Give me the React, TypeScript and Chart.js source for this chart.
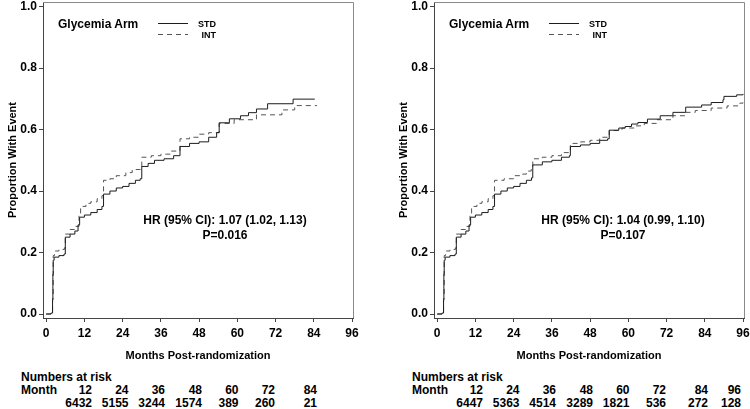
import React, { useEffect, useRef } from "react";
import { Chart, registerables } from "chart.js";
Chart.register(...registerables);

const FONT = '"Liberation Sans", Arial, Helvetica, sans-serif';

const xTickValues = [0, 12, 24, 36, 48, 60, 72, 84, 96];
const yTickValues = [0, 0.2, 0.4, 0.6, 0.8, 1.0];
const seriesNames = ["STD", "INT"];
const legendTitle = "Glycemia Arm";
const xAxisTitle = "Months Post-randomization";
const yAxisTitle = "Proportion With Event";

// Left panel
const leftStdMonths = [0, 1.5, 2.0, 2.1, 2.2, 2.5, 4.0, 5.6, 6.0, 7.5, 9.0, 10.0, 10.5, 12, 14, 16, 17.5, 18, 20, 22, 24, 26, 28, 29.5, 30, 32, 34, 37, 40, 42, 45, 48, 51, 53.5, 54.3, 57.5, 61, 63.5, 66, 69.5, 77.5, 84.3];
const leftStdValues = [0, 0.003, 0.045, 0.13, 0.175, 0.185, 0.19, 0.195, 0.25, 0.26, 0.27, 0.29, 0.315, 0.322, 0.33, 0.34, 0.35, 0.39, 0.4, 0.41, 0.415, 0.425, 0.435, 0.44, 0.48, 0.49, 0.5, 0.505, 0.515, 0.545, 0.555, 0.56, 0.575, 0.59, 0.622, 0.635, 0.645, 0.655, 0.667, 0.684, 0.699, 0.699];
const leftIntMonths = [0, 1.6, 2.0, 2.2, 2.6, 4.0, 5.7, 6.0, 7.5, 9, 10.3, 10.8, 12.5, 14, 16, 17.5, 18, 20, 22, 25, 27, 29.5, 30, 33, 36, 39, 42, 45, 48, 51, 54.3, 59, 66, 74, 78, 85];
const leftIntValues = [0, 0.003, 0.05, 0.19, 0.205, 0.21, 0.215, 0.26, 0.275, 0.285, 0.32, 0.35, 0.36, 0.365, 0.375, 0.385, 0.435, 0.44, 0.45, 0.46, 0.47, 0.48, 0.51, 0.515, 0.52, 0.53, 0.57, 0.575, 0.585, 0.59, 0.62, 0.632, 0.648, 0.664, 0.678, 0.678];
const leftRiskMonths = [12, 24, 36, 48, 60, 72, 84];
const leftRiskCounts = [6432, 5155, 3244, 1574, 389, 260, 21];
const leftHr = "HR (95% CI): 1.07 (1.02, 1.13)";
const leftP = "P=0.016";

// Right panel
const rightStdMonths = [0, 1.5, 2.0, 2.1, 2.2, 2.5, 4.0, 5.6, 6.0, 7.5, 9.0, 10.0, 10.5, 12, 14, 16, 17.5, 18, 20, 22, 24, 26, 28, 29.6, 30, 33, 36, 39, 41.5, 41.8, 45, 48, 51, 53.5, 54, 57, 59, 61, 63, 66, 70, 74, 78, 83, 86, 89.7, 90, 94, 96];
const rightStdValues = [0, 0.003, 0.045, 0.13, 0.175, 0.185, 0.19, 0.195, 0.25, 0.26, 0.27, 0.29, 0.315, 0.322, 0.33, 0.34, 0.35, 0.39, 0.4, 0.41, 0.415, 0.425, 0.435, 0.443, 0.485, 0.495, 0.5, 0.51, 0.515, 0.545, 0.55, 0.555, 0.565, 0.57, 0.598, 0.605, 0.61, 0.618, 0.623, 0.634, 0.645, 0.656, 0.673, 0.68, 0.688, 0.697, 0.708, 0.713, 0.716];
const rightIntMonths = [0, 1.6, 2.0, 2.2, 2.6, 4.0, 5.7, 6.0, 7.5, 9, 10.3, 10.8, 12.5, 14, 16, 17.5, 18, 21, 24, 26, 28, 29.5, 30, 33, 36, 39, 41.5, 41.8, 45, 48, 51, 53.5, 54, 58, 62, 65, 69, 74, 78, 81, 86, 91, 95, 96];
const rightIntValues = [0, 0.003, 0.05, 0.19, 0.205, 0.21, 0.215, 0.26, 0.275, 0.285, 0.32, 0.35, 0.36, 0.365, 0.375, 0.385, 0.435, 0.44, 0.45, 0.455, 0.465, 0.47, 0.505, 0.51, 0.515, 0.525, 0.53, 0.555, 0.56, 0.565, 0.575, 0.58, 0.597, 0.605, 0.612, 0.62, 0.632, 0.645, 0.656, 0.662, 0.67, 0.677, 0.686, 0.688];
const rightRiskMonths = [12, 24, 36, 48, 60, 72, 84, 96];
const rightRiskCounts = [6447, 5363, 4514, 3289, 1821, 536, 272, 128];
const rightHr = "HR (95% CI): 1.04 (0.99, 1.10)";
const rightP = "P=0.107";

const riskColumnRight = [92, 128.5, 165, 202, 238.5, 275, 317, 350];

const toPts = (ms: number[], vs: number[]) => ms.map((m, i) => ({ x: m, y: vs[i] }));

const framePlugin = {
  id: "frame",
  afterDraw(chart: any) {
    const { ctx, chartArea } = chart;
    const { left, right, top, bottom } = chartArea;
    ctx.save();
    ctx.strokeStyle = "#8a8a8a";
    ctx.lineWidth = 1;
    ctx.beginPath();
    ctx.moveTo(left, Math.round(top) + 0.5);
    ctx.lineTo(Math.round(right) + 0.5, Math.round(top) + 0.5);
    ctx.lineTo(Math.round(right) + 0.5, bottom);
    ctx.stroke();
    ctx.restore();
  },
};

type PanelProps = {
  offsetX: number;
  stdM: number[];
  stdV: number[];
  intM: number[];
  intV: number[];
  riskMonths: number[];
  riskCounts: number[];
  hr: string;
  p: string;
  hrCenterX: number;
};

function Panel(props: PanelProps) {
  const ref = useRef<HTMLCanvasElement | null>(null);
  useEffect(() => {
    if (!ref.current) return;
    const tickFont = { family: FONT, size: 12, weight: "bold" as const };
    const titleFont = { family: FONT, size: 11, weight: "bold" as const };
    const chart = new Chart(ref.current, {
      type: "line",
      data: {
        datasets: [
          {
            label: seriesNames[0],
            data: toPts(props.stdM, props.stdV),
            borderColor: "#1c1c1c",
            borderWidth: 1,
            pointRadius: 0,
            stepped: true,
            fill: false,
          },
          {
            label: seriesNames[1],
            data: toPts(props.intM, props.intV),
            borderColor: "#555555",
            borderWidth: 1,
            borderDash: [5, 4],
            pointRadius: 0,
            stepped: true,
            fill: false,
          },
        ],
      },
      options: {
        animation: false,
        responsive: false,
        maintainAspectRatio: false,
        events: [],
        layout: { padding: { top: 2, right: 6, left: 0, bottom: 0 } },
        plugins: { legend: { display: false }, tooltip: { enabled: false } },
        scales: {
          x: {
            type: "linear",
            min: -1,
            max: 96.3,
            afterBuildTicks: (s: any) => {
              s.ticks = xTickValues.map((v) => ({ value: v }));
            },
            afterFit: (s: any) => {
              s.height = 49;
              s.paddingLeft = 0;
              s.paddingRight = 0;
            },
            ticks: {
              font: tickFont,
              color: "#000",
              padding: 4,
              maxRotation: 0,
              autoSkip: false,
              callback: (v: any) => String(v),
            },
            grid: { display: true, drawOnChartArea: false, drawTicks: true, tickLength: 4, color: "#444" },
            border: { display: true, color: "#444" },
            title: { display: true, text: xAxisTitle, font: titleFont, color: "#000", padding: { top: 4, bottom: 4 } },
          },
          y: {
            type: "linear",
            min: -0.013,
            max: 1.015,
            afterBuildTicks: (s: any) => {
              s.ticks = yTickValues.map((v) => ({ value: v }));
            },
            afterFit: (s: any) => {
              s.width = 43;
              s.paddingTop = 0;
              s.paddingBottom = 0;
            },
            ticks: {
              font: tickFont,
              color: "#000",
              padding: 2,
              callback: (v: any) => Number(v).toFixed(1),
            },
            grid: { display: true, drawOnChartArea: false, drawTicks: true, tickLength: 4, color: "#444" },
            border: { display: true, color: "#444" },
            title: { display: true, text: yAxisTitle, font: titleFont, color: "#000", padding: { top: 6, bottom: 2 } },
          },
        },
      },
      plugins: [framePlugin],
    } as any);
    return () => chart.destroy();
  }, []);

  const textBase: React.CSSProperties = {
    position: "absolute",
    fontFamily: FONT,
    fontWeight: "bold",
    color: "#000",
    whiteSpace: "nowrap",
    lineHeight: "14px",
  };

  return (
    <div style={{ position: "absolute", left: props.offsetX, top: 0, width: 359, height: 409 }}>
      <canvas ref={ref} width={359} height={367} style={{ display: "block", width: 359, height: 367 }} />
      {/* legend */}
      <div style={{ ...textBase, left: 58, top: 17, fontSize: 12 }}>{legendTitle}</div>
      <svg style={{ position: "absolute", left: 0, top: 0 }} width={359} height={50}>
        <line x1={158} y1={23.5} x2={188} y2={23.5} stroke="#1c1c1c" strokeWidth={1} />
        <line x1={158} y1={34.5} x2={188} y2={34.5} stroke="#555" strokeWidth={1} strokeDasharray="5,4" />
      </svg>
      <div style={{ ...textBase, right: 359 - 216, top: 17, fontSize: 9, textAlign: "right" }}>{seriesNames[0]}</div>
      <div style={{ ...textBase, right: 359 - 216, top: 28, fontSize: 9, textAlign: "right" }}>{seriesNames[1]}</div>
      {/* HR */}
      <div style={{ ...textBase, left: props.hrCenterX - 150, width: 300, top: 213, fontSize: 12, textAlign: "center" }}>{props.hr}</div>
      <div style={{ ...textBase, left: props.hrCenterX - 150, width: 300, top: 228, fontSize: 12, textAlign: "center" }}>{props.p}</div>
      {/* numbers at risk */}
      <div style={{ ...textBase, left: 21, top: 370, fontSize: 12 }}>Numbers at risk</div>
      <div style={{ ...textBase, left: 21, top: 383, fontSize: 12 }}>Month</div>
      {props.riskMonths.map((m, i) => (
        <div key={"m" + i} style={{ ...textBase, right: 359 - riskColumnRight[i], top: 383, fontSize: 12, textAlign: "right" }}>
          {m}
        </div>
      ))}
      {props.riskCounts.map((c, i) => (
        <div key={"c" + i} style={{ ...textBase, right: 359 - riskColumnRight[i], top: 396, fontSize: 12, textAlign: "right" }}>
          {c}
        </div>
      ))}
    </div>
  );
}

export default function App() {
  useEffect(() => {
    document.body.style.margin = "0";
    document.body.style.background = "#fff";
  }, []);
  return (
    <div style={{ position: "relative", width: 750, height: 409, overflow: "hidden", background: "#fff" }}>
      <Panel
        offsetX={0}
        stdM={leftStdMonths}
        stdV={leftStdValues}
        intM={leftIntMonths}
        intV={leftIntValues}
        riskMonths={leftRiskMonths}
        riskCounts={leftRiskCounts}
        hr={leftHr}
        p={leftP}
        hrCenterX={225}
      />
      <Panel
        offsetX={391}
        stdM={rightStdMonths}
        stdV={rightStdValues}
        intM={rightIntMonths}
        intV={rightIntValues}
        riskMonths={rightRiskMonths}
        riskCounts={rightRiskCounts}
        hr={rightHr}
        p={rightP}
        hrCenterX={232}
      />
    </div>
  );
}
